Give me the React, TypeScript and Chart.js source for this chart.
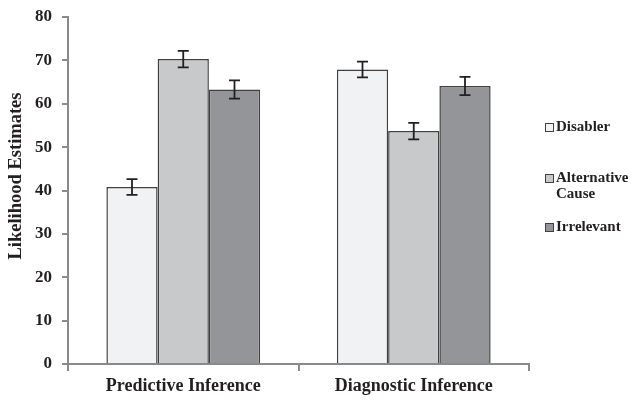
import React, { useEffect, useRef } from "react";
import { Chart, registerables } from "chart.js";

Chart.register(...registerables);

const categories = ["Predictive Inference", "Diagnostic Inference"];
const seriesNames = ["Disabler", "Alternative Cause", "Irrelevant"];
const legendLines = [["Disabler"], ["Alternative", "Cause"], ["Irrelevant"]];
const yAxisTitle = "Likelihood Estimates";
const disabler = [40.8, 67.9];
const alternativeCause = [70.3, 53.7];
const irrelevant = [63.3, 64.1];
const disablerErr = [1.8, 1.8];
const alternativeCauseErr = [1.9, 1.9];
const irrelevantErr = [2.1, 2.1];
const yTicks = [0, 10, 20, 30, 40, 50, 60, 70, 80];

const fills = ["#f1f2f4", "#c8c9cb", "#939598"];
const FONT = "'Liberation Serif', 'Times New Roman', serif";

const errorBarPlugin = {
  id: "errorBars",
  afterDatasetsDraw(chart: any) {
    const ctx = chart.ctx;
    const y = chart.scales.y;
    const errs = [disablerErr, alternativeCauseErr, irrelevantErr];
    ctx.save();
    ctx.strokeStyle = "#231f20";
    ctx.lineWidth = 1.8;
    chart.data.datasets.forEach((ds: any, i: number) => {
      const meta = chart.getDatasetMeta(i);
      meta.data.forEach((bar: any, j: number) => {
        const v = ds.data[j];
        const e = errs[i][j];
        const x = bar.x;
        const top = y.getPixelForValue(v + e);
        const bot = y.getPixelForValue(v - e);
        ctx.beginPath();
        ctx.moveTo(x, top);
        ctx.lineTo(x, bot);
        ctx.moveTo(x - 5.5, top);
        ctx.lineTo(x + 5.5, top);
        ctx.moveTo(x - 5.5, bot);
        ctx.lineTo(x + 5.5, bot);
        ctx.stroke();
      });
    });
    ctx.restore();
  },
};

const legendPlugin = {
  id: "customLegend",
  afterDraw(chart: any) {
    const ctx = chart.ctx;
    ctx.save();
    ctx.font = `bold 18.5px ${FONT}`;
    ctx.fillStyle = "#231f20";
    ctx.textAlign = "center";
    ctx.textBaseline = "middle";
    ctx.translate(16.5, 176);
    ctx.rotate(-Math.PI / 2);
    ctx.fillText(yAxisTitle, 0, 0);
    ctx.restore();

    ctx.save();
    ctx.font = `bold 15px ${FONT}`;
    ctx.textBaseline = "middle";
    const ys = [127, 178, 227];
    legendLines.forEach((lines, i) => {
      const y0 = ys[i];
      ctx.fillStyle = fills[i];
      ctx.fillRect(545, y0 - 4, 8, 8);
      ctx.strokeStyle = "#404040";
      ctx.lineWidth = 1;
      ctx.strokeRect(545.5, y0 - 3.5, 8, 8);
      ctx.fillStyle = "#231f20";
      lines.forEach((ln, k) => {
        ctx.fillText(ln, 556, y0 + k * 16);
      });
    });
    ctx.restore();
  },
};

export default function App() {
  const ref = useRef<HTMLCanvasElement>(null);
  useEffect(() => {
    document.body.style.margin = "0";
    const chart = new Chart(ref.current as HTMLCanvasElement, {
      type: "bar",
      data: {
        labels: categories,
        datasets: [disabler, alternativeCause, irrelevant].map((d, i) => ({
          label: seriesNames[i],
          data: d,
          backgroundColor: fills[i],
          borderColor: "#404040",
          borderWidth: 1.5,
          categoryPercentage: 0.667,
          barPercentage: 1,
        })),
      },
      options: {
        animation: false,
        responsive: false,
        layout: { padding: { top: 17, right: 102, bottom: 0, left: 0 } },
        plugins: { legend: { display: false }, tooltip: { enabled: false } },
        scales: {
          x: {
            grid: {
              drawOnChartArea: false,
              drawTicks: true,
              tickLength: 7,
              color: "#8a8a8a",
              lineWidth: 2,
            },
            border: { color: "#8a8a8a", width: 2 },
            ticks: {
              color: "#231f20",
              font: { family: FONT, size: 18, weight: "bold" },
              padding: 5,
            },
            afterFit(scale: any) {
              scale.height = 36;
              scale.paddingLeft = 0;
              scale.paddingRight = 0;
            },
          },
          y: {
            min: 0,
            max: 80,
            afterBuildTicks(scale: any) {
              scale.ticks = yTicks.map((v) => ({ value: v }));
            },
            grid: {
              drawOnChartArea: false,
              drawTicks: true,
              tickLength: 6,
              color: "#8a8a8a",
              lineWidth: 2,
            },
            border: { color: "#8a8a8a", width: 2 },
            ticks: {
              color: "#231f20",
              font: { family: FONT, size: 17, weight: "bold" },
              padding: 10,
            },
            afterFit(scale: any) {
              scale.width = 68;
              scale.paddingTop = 0;
              scale.paddingBottom = 0;
            },
          },
        },
      },
      plugins: [errorBarPlugin, legendPlugin],
    } as any);
    return () => chart.destroy();
  }, []);
  return (
    <div style={{ position: "absolute", left: 0, top: 0, width: 631, height: 400, background: "#fff" }}>
      <canvas ref={ref} width={631} height={400} />
    </div>
  );
}
